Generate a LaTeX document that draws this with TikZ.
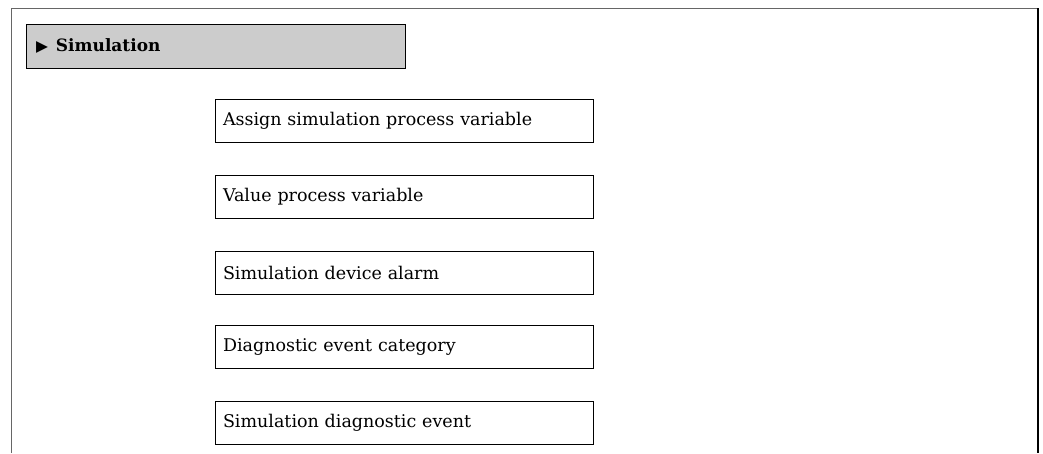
\documentclass[tikz,border=0pt]{standalone}
\usepackage{fontspec}
\setmainfont{DejaVu Serif}
\newfontfamily\symfont{DejaVu Sans}
\usepackage{xcolor}
\usepackage{tikz}
\usetikzlibrary{positioning}
\definecolor{HeadGray}{RGB}{204,204,204}
\tikzset{
	param/.style={draw, line width=1pt, minimum width=378pt, minimum height=43pt,
		inner xsep=8pt, text width=362pt, align=left, font=\fontsize{17.5}{19}\selectfont},
	head/.style={draw, line width=1pt, fill=HeadGray, minimum width=379pt, minimum height=44pt,
		inner xsep=10pt, text width=359pt, align=left, font=\fontsize{17}{19}\selectfont\bfseries}
}

\begin{document}
\begin{tikzpicture}[x=1pt, y=-1pt]
	\useasboundingbox (0,0) rectangle (1043,453);
	% frame
	\draw[line width=1pt, black!60] (11,453) -- (11,8) -- (1038,8);
	\draw[line width=1.2pt] (1038,8) -- (1038,453);
	% submenu
	\node[head] (sim) at (215.5,46) {{\symfont\fontsize{15.5}{17}\selectfont ▶}\hspace{8pt}Simulation};
	% parameters
	\node[param] (assign) at (404,120.5) {Assign simulation process variable};
	\node[param] (value) at (404,196.5) {Value process variable};
	\node[param] (alarm) at (404,272.5) {Simulation device alarm};
	\node[param] (category) at (404,347) {Diagnostic event category};
	\node[param] (event) at (404,422.5) {Simulation diagnostic event};
\end{tikzpicture}
\end{document}
